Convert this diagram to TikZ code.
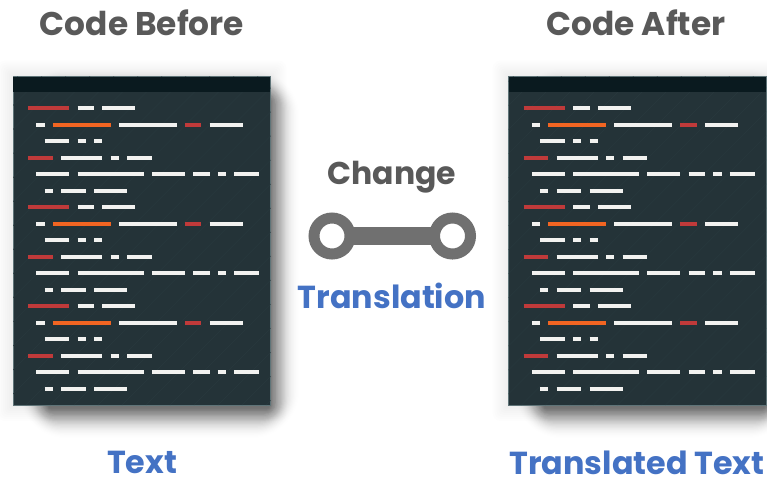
\documentclass[tikz,border=0pt]{standalone}
\usepackage{fontspec}
\setmainfont{Poppins}
\usepackage{tikz}
\usetikzlibrary{positioning,calc}

\definecolor{panelbg}{HTML}{243338}
\definecolor{panelhead}{HTML}{0A1A1F}
\definecolor{paneledge}{HTML}{5F7478}
\definecolor{stripe}{HTML}{28383D}
\definecolor{barwhite}{HTML}{F2F2F0}
\definecolor{barred}{HTML}{C03A3A}
\definecolor{barorange}{HTML}{F26522}
\definecolor{titlegrey}{HTML}{595959}
\definecolor{ringgrey}{HTML}{707070}
\definecolor{labelblue}{HTML}{4472C4}

\tikzset{
  title/.style={anchor=base, text=titlegrey, font=\bfseries\fontsize{32.8}{33}\selectfont, inner sep=0pt},
  midtitle/.style={title, font=\bfseries\fontsize{31.5}{32}\selectfont},
  label/.style={anchor=base, text=labelblue, font=\bfseries\fontsize{31.8}{32}\selectfont, inner sep=0pt},
  ring/.style={circle, draw=ringgrey, fill=white, line width=11pt, minimum size=36pt, inner sep=0pt},
  codebar/.style={line width=4pt}
}

% one bar per triple: first column, last column, colour
\newcommand{\codebars}[2]{%
  \foreach \a/\b/\c in {#2}
    \draw[codebar, \c] ({28+8.25*\a},#1) -- ({28+8.25*\b},#1);
}

\newcommand{\codepanel}[2]{%
  \begin{scope}[xshift=#2 pt]
    \foreach \s in {1,...,8}
      \fill[black, opacity=0.006, rounded corners=\s pt]
        ({13-2*\s},{76.5-2*\s}) rectangle ({270.5+2*\s},{405+2*\s});
    % soft shadow, denser towards the panel
    \foreach \s in {1,...,24} {
      \pgfmathsetmacro{\alf}{0.055*(1-\s/25)}
      \fill[black, opacity=\alf, rounded corners=2*\s pt]
        ({50-1.3*\s},{100-1.3*\s}) rectangle ({268+1.3*\s},{407+1.3*\s});
    }
    \node (#1) [rectangle, draw=paneledge, line width=0.6pt, fill=panelbg, minimum width=257.5pt, minimum height=328.5pt, inner sep=0pt] at (141.75,240.75) {};
    \begin{scope}
      \clip (13,76.5) rectangle (270.5,405);
      \foreach \s in {0,...,26}
        \draw[stripe, line width=0.5pt] ({-310+24*\s},405) -- ({18+24*\s},76.5);
    \end{scope}
    \node (#1head) [rectangle, fill=panelhead, minimum width=257pt, minimum height=15pt, inner sep=0pt] at (141.75,84.5) {};
    \foreach \r in {0,1,2} {
      \pgfmathsetmacro{\top}{108+99*\r}
      \codebars{\top}{0/5/barred,6/8/barwhite,9/13/barwhite}
      \codebars{\top+16.5}{1/2/barwhite,3/10/barorange,11/18/barwhite,19/21/barred,22/26/barwhite}
      \codebars{\top+33}{2/5/barwhite,6/7/barwhite,8/9/barwhite}
      \codebars{\top+49.5}{0/3/barred,4/9/barwhite,10/11/barwhite,12/15/barwhite}
      \codebars{\top+66}{1/5/barwhite,6/14/barwhite,15/19/barwhite,20/22/barwhite,23/24/barwhite,25/28/barwhite}
      \codebars{\top+82.5}{2/3/barwhite,4/7/barwhite,8/12/barwhite}
    }
  \end{scope}
}

\begin{document}
\begin{tikzpicture}[x=1pt,y=-1pt]
  \useasboundingbox (0,0) rectangle (767,479);
  \fill[white] (0,0) rectangle (767,479);

  \codepanel{before}{0}
  \codepanel{after}{495.5}

  \node (beforetitle) [title] at (142,35) {Code Before};
  \node (aftertitle) [title] at (636,35) {Code After};
  \node (change) [midtitle] at (392,184) {Change};
  \node (translation) [label] at (392,308) {Translation};
  \node (text) [label] at (142,473) {Text};
  \node (translated) [label] at (637,474) {Translated Text};

  % the link between the two rings
  \node (ringl) [ring] at (332,236) {};
  \node (ringr) [ring] at (452.5,236) {};
  \draw[ringgrey, line width=18pt, shorten >=-4pt, shorten <=-4pt] (ringl) -- (ringr);
\end{tikzpicture}
\end{document}
